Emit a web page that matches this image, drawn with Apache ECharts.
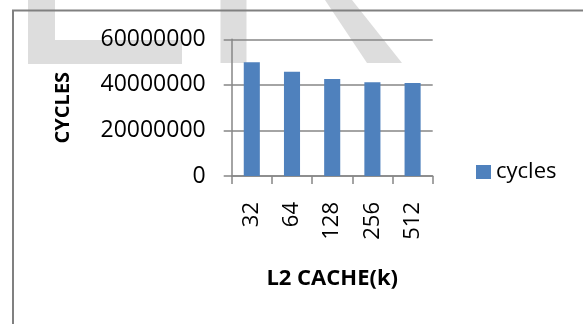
<!DOCTYPE html>
<html>
<head>
<meta charset="utf-8">
<script src="https://cdn.jsdelivr.net/npm/echarts@6/dist/echarts.min.js"></script>
<style>html,body{margin:0;padding:0;background:#fff;}#c{width:583px;height:324px;}</style>
</head>
<body>
<div id="c"></div>
<script>
var categories = ['32', '64', '128', '256', '512'];
var cycles = [49900000, 45800000, 42600000, 41100000, 40800000];
var seriesName = 'cycles';
var yAxisName = 'CYCLES';
var xAxisName = 'L2 CACHE(k)';

var chart = echarts.init(document.getElementById('c'), null, {renderer: 'canvas'});
var font = '"Open Sans", "Liberation Sans", sans-serif';
var axisGray = '#868686';
chart.setOption({
  animation: false,
  backgroundColor: '#fff',
  textStyle: {fontFamily: font},
  graphic: [
    {type: 'polygon', z: -10, silent: true, shape: {points: [[28,0],[55,0],[55,40],[182,40],[182,64],[28,64]]}, style: {fill: '#dddddd'}},
    {type: 'polygon', z: -10, silent: true, shape: {points: [[220.5,0],[246.5,0],[246.5,63],[220.5,63]]}, style: {fill: '#dddddd'}},
    {type: 'polygon', z: -10, silent: true, shape: {points: [[325,0],[352,0],[402,63],[367,63]]}, style: {fill: '#dddddd'}},
    {type: 'rect', z: -5, silent: true, shape: {x: 13, y: 10.5, width: 700, height: 500}, style: {fill: null, stroke: '#808080', lineWidth: 2}}
  ],
  grid: {left: 231.7, right: 150.3, top: 39.3, bottom: 148, containLabel: false},
  legend: {
    left: 476, top: 161, orient: 'vertical', padding: 0,
    itemWidth: 15, itemHeight: 14, itemGap: 5,
    icon: 'rect',
    textStyle: {fontFamily: font, fontSize: 22, color: '#000', padding: [0,0,0,0]},
    data: [seriesName]
  },
  xAxis: {
    type: 'category',
    data: categories,
    boundaryGap: true,
    name: xAxisName,
    nameLocation: 'middle',
    nameGap: 92,
    nameTextStyle: {fontFamily: font, fontSize: 22, fontWeight: 'bold', color: '#000'},
    axisLine: {show: true, lineStyle: {color: axisGray, width: 1.5}},
    axisTick: {show: true, length: 8, interval: 0, lineStyle: {color: axisGray, width: 1.5}},
    axisLabel: {rotate: 90, margin: 26, interval: 0, fontFamily: font, fontSize: 22, color: '#000'},
    splitLine: {show: false}
  },
  yAxis: {
    type: 'value',
    min: 0, max: 60000000, interval: 20000000,
    name: yAxisName,
    nameLocation: 'middle',
    nameRotate: 90,
    nameGap: 158,
    nameTextStyle: {fontFamily: font, fontSize: 20, fontWeight: 'bold', color: '#000'},
    axisLine: {show: true, lineStyle: {color: axisGray, width: 1.5}},
    axisTick: {show: true, length: 8, lineStyle: {color: axisGray, width: 1.5}},
    axisLabel: {margin: 26, fontFamily: font, fontSize: 23, color: '#000', formatter: function (v) { return String(v); }},
    splitLine: {show: true, lineStyle: {color: axisGray, width: 1.5}}
  },
  series: [{
    name: seriesName,
    type: 'bar',
    data: cycles,
    barWidth: '40%',
    itemStyle: {color: '#4f81bd'}
  }]
});
</script>
</body>
</html>
